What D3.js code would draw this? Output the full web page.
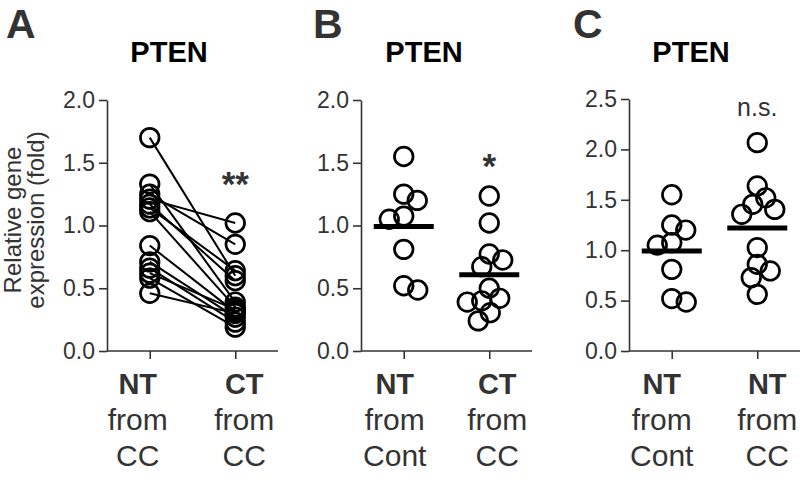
<!DOCTYPE html>
<html>
<head>
<meta charset="utf-8">
<script src="https://cdn.jsdelivr.net/npm/d3@7"></script>
<style>
  html, body { margin: 0; padding: 0; background: #fff; }
  svg { display: block; font-family: "Liberation Sans", Arial, Helvetica, sans-serif; }
</style>
</head>
<body>
<svg id="chart" width="800" height="480"></svg>
<script>
// ---------------- DATA ----------------
const panelLetters = ["A", "B", "C"];
const panelTitle = "PTEN";
const yLabelLines = ["Relative gene", "expression (fold)"];

// Panel A (paired): NT from CC vs CT from CC
const catsA = [["NT", "from", "CC"], ["CT", "from", "CC"]];
const pairedNT = [1.70, 1.33, 1.25, 1.21, 1.17, 1.14, 1.11, 0.84, 0.71, 0.66, 0.62, 0.58, 0.46];
const pairedCT = [0.60, 0.39, 0.85, 1.02, 0.56, 0.64, 0.35, 0.31, 0.27, 0.23, 0.33, 0.19, 0.30];
const ticksA = [0.0, 0.5, 1.0, 1.5, 2.0];
const sigA = "**";

// Panel B: NT from Cont vs CT from CC
const catsB = [["NT", "from", "Cont"], ["CT", "from", "CC"]];
const ntCont = [1.55, 1.25, 1.20, 1.075, 1.05, 0.81, 0.52, 0.486];
const ctCC = [1.235, 1.02, 0.773, 0.725, 0.672, 0.50, 0.42, 0.40, 0.39, 0.305, 0.24];
const ticksB = [0.0, 0.5, 1.0, 1.5, 2.0];
const sigB = "*";

// Panel C: NT from Cont vs NT from CC
const catsC = [["NT", "from", "Cont"], ["NT", "from", "CC"]];
const ntCC = [2.067, 1.637, 1.52, 1.455, 1.405, 1.356, 1.026, 0.86, 0.794, 0.728, 0.562];
const ticksC = [0.0, 0.5, 1.0, 1.5, 2.0, 2.5];
const sigC = "n.s.";

// ---------------- LAYOUT ----------------
const svg = d3.select("#chart");
const axisColor = "#333";
const textColor = "#333";
const yTop = 100, yBottom = 351, axisLen = 171;
const R = 9.3;

function makePanel(opt) {
  const g = svg.append("g");
  const x = d3.scalePoint().domain(opt.cats.map((c, i) => i)).range([opt.x0, opt.x0 + axisLen]).padding(0.5);
  const y = d3.scaleLinear().domain(opt.yDomain).range([yBottom, opt.yTopPx]);

  // y axis
  const ya = g.append("g").attr("transform", `translate(${opt.x0},0)`)
    .call(d3.axisLeft(y).tickValues(opt.ticks).tickFormat(d3.format(".1f")).tickSize(8).tickSizeOuter(0).tickPadding(4));
  ya.select(".domain").attr("stroke", axisColor).attr("stroke-width", 1.6);
  ya.selectAll(".tick line").attr("stroke", axisColor).attr("stroke-width", 1.6);
  ya.selectAll(".tick text").attr("fill", textColor).style("font-size", "23px").style("font-family", "Liberation Sans, Arial, sans-serif");

  // x axis
  const xa = g.append("g").attr("transform", `translate(0,${yBottom})`)
    .call(d3.axisBottom(x).tickSize(8).tickSizeOuter(0).tickFormat(""));
  xa.select(".domain").attr("stroke", axisColor).attr("stroke-width", 1.6)
    .attr("d", `M${opt.x0},0H${opt.x0 + axisLen}`);
  xa.selectAll(".tick line").attr("stroke", axisColor).attr("stroke-width", 1.6);

  // category labels
  opt.cats.forEach((lines, i) => {
    const cx = x(i) + opt.labelDx[i];
    lines.forEach((t, j) => {
      g.append("text").attr("x", cx).attr("y", 394 + j * 36)
        .attr("text-anchor", "middle").attr("fill", textColor)
        .style("font-size", j === 0 ? "29px" : "30px")
        .style("font-weight", j === 0 ? "bold" : "normal")
        .text(t);
    });
  });

  // title and letter
  g.append("text").attr("x", opt.titleX).attr("y", 62).attr("text-anchor", "middle")
    .style("font-size", "29px").style("font-weight", "bold").attr("fill", "#000").text(panelTitle);
  g.append("text").attr("x", opt.letterX).attr("y", 38)
    .style("font-size", "41px").style("font-weight", "bold").attr("fill", "#333").text(opt.letter);
  return { g, x, y };
}

// simple beeswarm dodge
function swarm(values, y, minDist) {
  const order = values.map((v, i) => i).sort((a, b) => values[b] - values[a]);
  const placed = [];
  const out = new Array(values.length);
  let flip = 1;
  order.forEach(i => {
    const py = y(values[i]);
    let dx = 0;
    for (let m = 0; m < 80; m += 0.5) {
      let found = false;
      for (const s of [flip, -flip]) {
        const cand = m * s;
        if (placed.every(p => Math.hypot(p.dx - cand, p.y - py) >= minDist)) { dx = cand; found = true; break; }
      }
      if (found) break;
    }
    if (dx !== 0) flip = -flip;
    placed.push({ dx, y: py });
    out[i] = dx;
  });
  return out;
}

function drawScatter(P, idx, values) {
  const offs = swarm(values, P.y, 14.5);
  const cx = P.x(idx);
  const mean = d3.mean(values);
  P.g.append("line").attr("x1", cx - 30).attr("x2", cx + 30)
    .attr("y1", P.y(mean)).attr("y2", P.y(mean))
    .attr("stroke", "#000").attr("stroke-width", 5);
  P.g.append("g").selectAll("circle").data(values).join("circle")
    .attr("cx", (d, i) => cx + offs[i]).attr("cy", d => P.y(d)).attr("r", R)
    .attr("fill", "none").attr("stroke", "#000").attr("stroke-width", 2.7);
}

// ---- Panel A ----
const A = makePanel({ cats: catsA, x0: 107, yDomain: [0, 2], yTopPx: yTop, ticks: ticksA,
  titleX: 169, letterX: 6, letter: panelLetters[0], labelDx: [-12, 9] });
// y label
yLabelLines.forEach((t, j) => {
  svg.append("text").attr("transform", `translate(${21 + j * 23},220) rotate(-90)`)
    .attr("text-anchor", "middle").attr("fill", textColor).style("font-size", "24px").text(t);
});
const pairs = pairedNT.map((v, i) => [v, pairedCT[i]]);
A.g.append("g").selectAll("line").data(pairs).join("line")
  .attr("x1", A.x(0)).attr("x2", A.x(1))
  .attr("y1", d => A.y(d[0])).attr("y2", d => A.y(d[1]))
  .attr("stroke", "#000").attr("stroke-width", 2);
[pairedNT, pairedCT].forEach((vals, k) => {
  A.g.append("g").selectAll("circle").data(vals).join("circle")
    .attr("cx", A.x(k)).attr("cy", d => A.y(d)).attr("r", R)
    .attr("fill", "none").attr("stroke", "#000").attr("stroke-width", 2.7);
});
A.g.append("text").attr("x", A.x(1)).attr("y", 196).attr("text-anchor", "middle")
  .style("font-size", "35px").style("font-weight", "bold").attr("fill", "#333").text(sigA);

// ---- Panel B ----
const B = makePanel({ cats: catsB, x0: 361, yDomain: [0, 2], yTopPx: yTop, ticks: ticksB,
  titleX: 424, letterX: 313, letter: panelLetters[1], labelDx: [-9, 8] });
drawScatter(B, 0, ntCont);
drawScatter(B, 1, ctCC);
B.g.append("text").attr("x", B.x(1)).attr("y", 178).attr("text-anchor", "middle")
  .style("font-size", "35px").style("font-weight", "bold").attr("fill", "#333").text(sigB);

// ---- Panel C ----
const C = makePanel({ cats: catsC, x0: 629, yDomain: [0, 2.5], yTopPx: 99, ticks: ticksC,
  titleX: 691, letterX: 573, letter: panelLetters[2], labelDx: [-10, 10] });
drawScatter(C, 0, ntCont);
drawScatter(C, 1, ntCC);
C.g.append("text").attr("x", C.x(1)).attr("y", 116).attr("text-anchor", "middle")
  .style("font-size", "25px").attr("fill", "#333").text(sigC);
</script>
</body>
</html>
